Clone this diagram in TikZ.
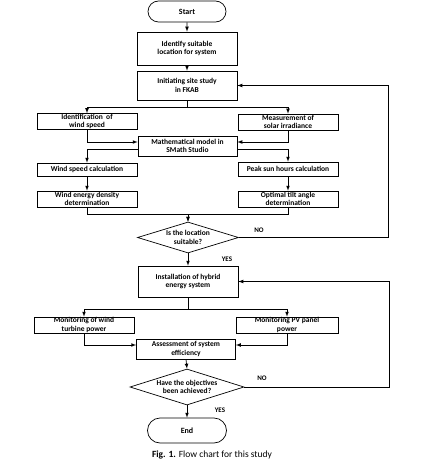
\documentclass[tikz,border=0pt]{standalone}
\usepackage{fontspec}
\setmainfont{Carlito}
\usetikzlibrary{shapes.geometric,shapes.misc}
\tikzset{>=latex}
\tikzset{
  stepbox/.style = {draw, line width=0.7pt, align=center, inner xsep=2pt, inner ysep=0pt,
    font=\bfseries\fontsize{7.5}{8.5}\selectfont},
  terminal/.style = {draw, line width=0.7pt, rounded rectangle, inner sep=0pt,
    font=\bfseries\fontsize{8}{9}\selectfont},
  decision/.style = {draw, line width=0.7pt, diamond, inner sep=0pt},
  dtext/.style = {align=center, inner sep=0pt, font=\bfseries\fontsize{7.5}{8.5}\selectfont},
  flow/.style = {->, line width=0.7pt},
  answer/.style = {inner sep=0pt, font=\bfseries\fontsize{7}{8}\selectfont}
}

\begin{document}
\begin{tikzpicture}[x=1pt,y=-1pt]
  \useasboundingbox (0,0) rectangle (429,468);
  % start
  \node[terminal, minimum width=78pt, minimum height=21pt] (start) at (187,11.5) {Start};
  \node[stepbox, minimum width=100pt, minimum height=33pt] (locate) at (187,48.5) {Identify suitable\\location for system};
  \node[stepbox, minimum width=100pt, minimum height=29pt] (site) at (187,85.5) {Initiating site study\\in FKAB};
  % wind and solar data
  \node[stepbox, minimum width=100pt, minimum height=16pt] (windid) at (87,121.5) {Identification\ \ of\\wind speed};
  \node[stepbox, minimum width=100pt, minimum height=16pt] (solar) at (288,122) {Measurement of\\solar irradiance};
  \node[stepbox, minimum width=99pt, minimum height=20pt] (model) at (187.5,146) {Mathematical model in\\SMath Studio};
  \node[stepbox, minimum width=100pt, minimum height=13pt] (windcalc) at (87,169.5) {Wind speed calculation};
  \node[stepbox, minimum width=100pt, minimum height=14pt] (suncalc) at (288,169) {Peak sun hours calculation};
  \node[stepbox, minimum width=100pt, minimum height=16pt] (density) at (87,199) {Wind energy density\\determination};
  \node[stepbox, minimum width=100pt, minimum height=16pt] (tilt) at (288,199) {Optimal tilt angle\\determination};
  % first decision
  \node[decision, minimum width=101pt, minimum height=31pt] (suit) at (188,237.5) {};
  \node[dtext] (suittext) at (suit) {Is the location\\suitable?};
  % installation and monitoring
  \node[stepbox, minimum width=100pt, minimum height=31pt] (install) at (188,281.5) {Installation of hybrid\\energy system};
  \node[stepbox, minimum width=100pt, minimum height=16pt] (mwind) at (84,325) {Monitoring of wind\\turbine power};
  \node[stepbox, minimum width=102pt, minimum height=16pt] (mpv) at (287,325) {Monitoring PV panel\\power};
  \node[stepbox, minimum width=99pt, minimum height=20pt] (assess) at (186,349) {Assessment of system\\efficiency};
  % second decision
  \node[decision, minimum width=114pt, minimum height=36pt] (goal) at (187,387) {};
  \node[dtext] (goaltext) at (goal) {Have the objectives\\been achieved?};
  \node[terminal, minimum width=79pt, minimum height=25pt] (stop) at (187,430.5) {End};
  % connectors
  \draw[flow] (start) -- (locate);
  \draw[flow] (locate) -- (site);
  \draw[flow] (site.south) -- ++(0,7) -| (windid.north);
  \draw[flow] (site.south) -- ++(0,7) -| (solar.north);
  \draw[flow] (windid.south) |- ([yshift=4pt]model.west);
  \draw[flow] (solar.south) |- ([yshift=4pt]model.east);
  \draw[flow] ([yshift=-3pt]model.west) -| (windcalc.north);
  \draw[flow] ([yshift=-3pt]model.east) -| (suncalc.north);
  \draw[flow] (windcalc) -- (density);
  \draw[flow] (suncalc) -- (tilt);
  \draw[flow] (density.south) -- ++(0,7) -| (suit.north);
  \draw[flow] (tilt.south) -- ++(0,7) -| (suit.north);
  % not suitable
  \coordinate (back1) at (388,237.5);
  \draw[flow] (suit.east) -- (back1) |- (site.east);
  \node[answer] (no1) at (259,230) {NO};
  \draw[flow] (suit.south) -- (install.north);
  \node[answer] (yes1) at (227,259) {YES};
  \draw[flow] (install.south) -- ++(0,12) -| (mwind.north);
  \draw[flow] (install.south) -- ++(0,12) -| (mpv.north);
  \draw[flow] (mwind.south) |- ([yshift=4pt]assess.west);
  \draw[flow] (mpv.south) |- ([yshift=4pt]assess.east);
  \draw[flow] (assess.south) -- (goal.north);
  % not achieved
  \coordinate (back2) at (389,387);
  \draw[flow] (goal.east) -- (back2) |- (install.east);
  \node[answer] (no2) at (262,378) {NO};
  \draw[flow] (goal.south) -- (stop.north);
  \node[answer] (yes2) at (220,410) {YES};
  % caption
  \node[font=\fontsize{9.5}{11}\selectfont] (caption) at (212,455) {\textbf{Fig. 1.} Flow chart for this study};
\end{tikzpicture}
\end{document}
